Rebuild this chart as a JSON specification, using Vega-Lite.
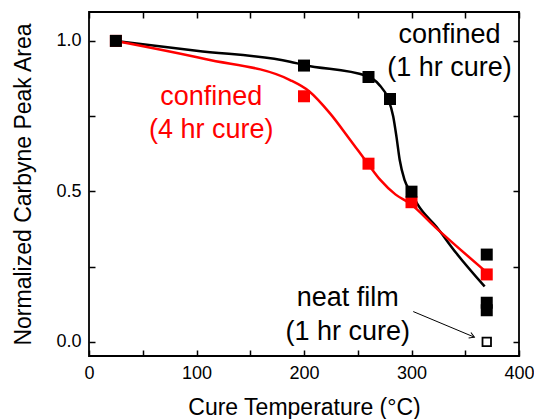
{
  "$schema": "https://vega.github.io/schema/vega-lite/v6.json",
  "width": 430,
  "height": 344,
  "autosize": "none",
  "padding": {"left": 89, "top": 12, "right": 15, "bottom": 63},
  "config": {
    "font": "Liberation Sans",
    "view": {"stroke": "black", "strokeWidth": 1.8},
    "axis": {"domain": false, "grid": false, "labelColor": "black", "titleColor": "black", "tickColor": "black", "tickWidth": 1.5, "labelFontSize": 18, "titleFontSize": 23, "titleFontWeight": "normal", "labelFont": "Liberation Sans", "titleFont": "Liberation Sans", "labelFlush": false}
  },
  "datasets": {
    "curves": [
      {"series": "1hr", "t": 25, "v": 1.0},
      {"series": "1hr", "t": 100, "v": 0.967},
      {"series": "1hr", "t": 187, "v": 0.931},
      {"series": "1hr", "t": 200, "v": 0.92},
      {"series": "1hr", "t": 258, "v": 0.884},
      {"series": "1hr", "t": 270, "v": 0.854},
      {"series": "1hr", "t": 278, "v": 0.81},
      {"series": "1hr", "t": 283, "v": 0.749},
      {"series": "1hr", "t": 286, "v": 0.682},
      {"series": "1hr", "t": 289, "v": 0.605},
      {"series": "1hr", "t": 293.5, "v": 0.538},
      {"series": "1hr", "t": 300, "v": 0.494},
      {"series": "1hr", "t": 306, "v": 0.455},
      {"series": "1hr", "t": 323, "v": 0.383},
      {"series": "1hr", "t": 341.6, "v": 0.295},
      {"series": "1hr", "t": 368, "v": 0.184},
      {"series": "4hr", "t": 25, "v": 1.0},
      {"series": "4hr", "t": 108, "v": 0.94},
      {"series": "4hr", "t": 187, "v": 0.87},
      {"series": "4hr", "t": 205, "v": 0.832},
      {"series": "4hr", "t": 224, "v": 0.76},
      {"series": "4hr", "t": 243, "v": 0.671},
      {"series": "4hr", "t": 259, "v": 0.594},
      {"series": "4hr", "t": 271, "v": 0.538},
      {"series": "4hr", "t": 285, "v": 0.49},
      {"series": "4hr", "t": 298, "v": 0.461},
      {"series": "4hr", "t": 323, "v": 0.378},
      {"series": "4hr", "t": 367, "v": 0.24}
    ],
    "points": [
      {"series": "4hr", "t": 25, "v": 1.0},
      {"series": "4hr", "t": 200, "v": 0.816},
      {"series": "4hr", "t": 260, "v": 0.592},
      {"series": "4hr", "t": 300, "v": 0.464},
      {"series": "4hr", "t": 370, "v": 0.224},
      {"series": "1hr", "t": 25, "v": 1.0},
      {"series": "1hr", "t": 200, "v": 0.918},
      {"series": "1hr", "t": 260, "v": 0.88},
      {"series": "1hr", "t": 280, "v": 0.807},
      {"series": "1hr", "t": 300, "v": 0.499},
      {"series": "1hr", "t": 370, "v": 0.29},
      {"series": "1hr", "t": 370, "v": 0.13},
      {"series": "1hr", "t": 370, "v": 0.105}
    ],
    "neat": [
      {"series": "neat", "t": 370, "v": 0.0}
    ],
    "labels": [
      {"series": "1hr", "t": 335.4, "v": 1.02, "text": "confined"},
      {"series": "1hr", "t": 335.4, "v": 0.91, "text": "(1 hr cure)"},
      {"series": "4hr", "t": 113.8, "v": 0.814, "text": "confined"},
      {"series": "4hr", "t": 113.8, "v": 0.704, "text": "(4 hr cure)"},
      {"series": "neat", "t": 240.7, "v": 0.146, "text": "neat film"},
      {"series": "neat", "t": 240.7, "v": 0.033, "text": "(1 hr cure)"}
    ],
    "arrow": [
      {"t": 301.6, "v": 0.1007, "t2": 358.5, "v2": 0.0156}
    ]
  },
  "resolve": {"axis": {"x": "independent", "y": "independent"}},
  "layer": [
    {
      "data": {"name": "curves"},
      "mark": {"type": "line", "interpolate": "monotone", "strokeWidth": 2.5},
      "encoding": {
        "x": {"field": "t", "type": "quantitative", "scale": {"domain": [0, 400], "nice": false},
          "axis": {"orient": "bottom", "title": "Cure Temperature (°C)", "values": [0, 50, 100, 150, 200, 250, 300, 350, 400], "labelExpr": "datum.value % 100 === 0 ? datum.label : ''", "tickSize": -6, "labelPadding": 14, "titlePadding": 14}},
        "y": {"field": "v", "type": "quantitative", "scale": {"domain": [-0.047, 1.096], "nice": false, "zero": false},
          "axis": {"orient": "left", "title": "Normalized Carbyne Peak Area", "values": [0, 0.25, 0.5, 0.75, 1.0], "labelExpr": "(datum.value * 2) % 1 === 0 ? format(datum.value, '.1f') : ''", "tickSize": -6, "labelPadding": 14, "titlePadding": 20}},
        "color": {"field": "series", "type": "nominal", "scale": {"domain": ["1hr", "4hr", "neat"], "range": ["#000000", "#ff0000", "#000000"]}, "legend": null},
        "detail": {"field": "series"}
      }
    },
    {
      "data": {"name": "points"},
      "mark": {"type": "point", "shape": "square", "filled": true, "size": 144, "opacity": 1},
      "encoding": {
        "x": {"field": "t", "type": "quantitative", "axis": null},
        "y": {"field": "v", "type": "quantitative", "axis": null},
        "color": {"field": "series", "type": "nominal", "legend": null}
      }
    },
    {
      "data": {"name": "neat"},
      "mark": {"type": "point", "shape": "square", "filled": false, "size": 72, "strokeWidth": 1.8, "opacity": 1, "color": "black"},
      "encoding": {
        "x": {"field": "t", "type": "quantitative", "axis": null},
        "y": {"field": "v", "type": "quantitative", "axis": null}
      }
    },
    {
      "data": {"name": "arrow"},
      "mark": {"type": "rule", "color": "black", "strokeWidth": 1},
      "encoding": {
        "x": {"field": "t", "type": "quantitative", "axis": null},
        "y": {"field": "v", "type": "quantitative", "axis": null},
        "x2": {"field": "t2"},
        "y2": {"field": "v2"}
      }
    },
    {
      "data": {"name": "arrow"},
      "mark": {"type": "point", "shape": "M-1,-0.6L0,0L-1,0.6", "filled": false, "size": 100, "strokeWidth": 1, "color": "black", "opacity": 1, "angle": 22.7},
      "encoding": {
        "x": {"field": "t2", "type": "quantitative", "axis": null},
        "y": {"field": "v2", "type": "quantitative", "axis": null}
      }
    },
    {
      "data": {"name": "labels"},
      "mark": {"type": "text", "fontSize": 27, "align": "center", "baseline": "middle"},
      "encoding": {
        "x": {"field": "t", "type": "quantitative", "axis": null},
        "y": {"field": "v", "type": "quantitative", "axis": null},
        "text": {"field": "text"},
        "color": {"field": "series", "type": "nominal", "legend": null}
      }
    },
    {
      "data": {"name": "points"},
      "mark": {"type": "point", "opacity": 0},
      "encoding": {
        "x": {"field": "t", "type": "quantitative",
          "axis": {"orient": "top", "title": null, "labels": false, "values": [0, 50, 100, 150, 200, 250, 300, 350, 400], "tickSize": -6}},
        "y": {"field": "v", "type": "quantitative",
          "axis": {"orient": "right", "title": null, "labels": false, "values": [0, 0.25, 0.5, 0.75, 1.0], "tickSize": -6}}
      }
    }
  ]
}
